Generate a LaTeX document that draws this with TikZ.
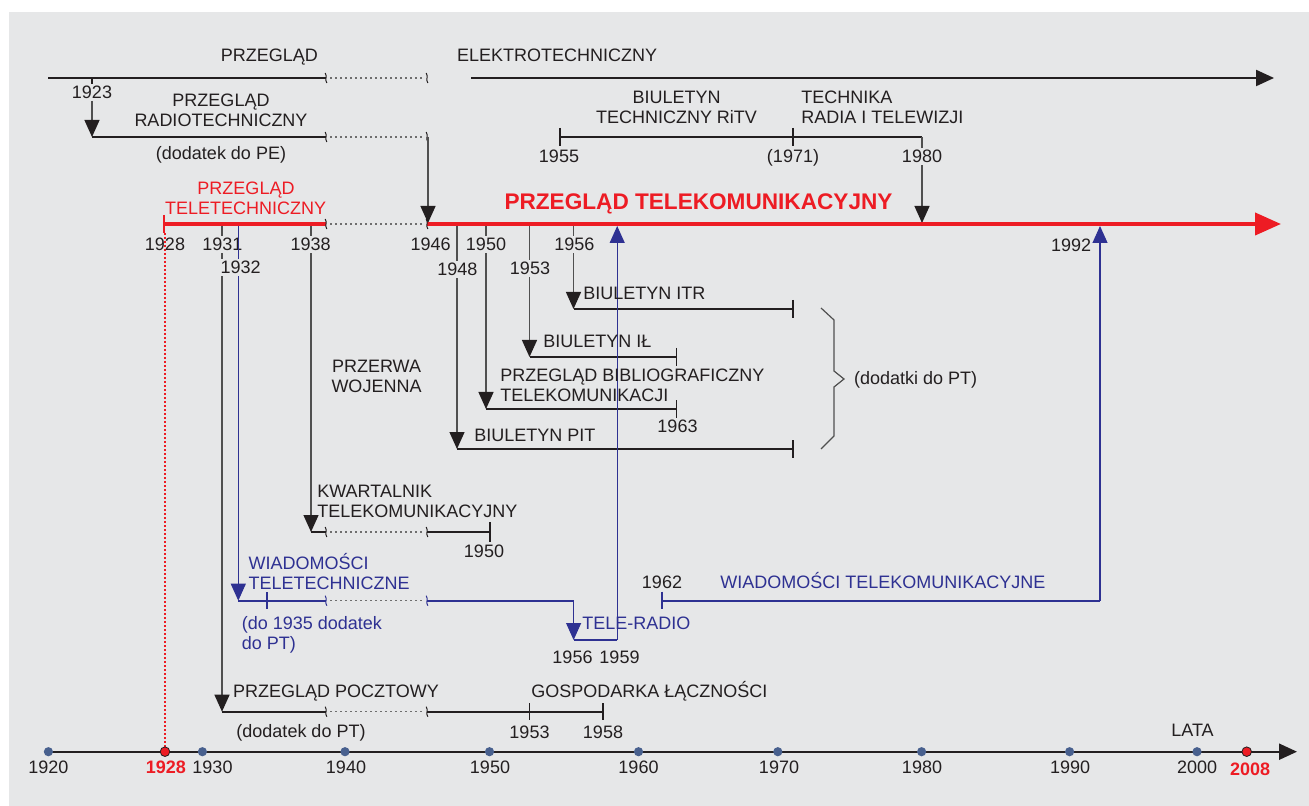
\documentclass[tikz,border=0pt]{standalone}
\usepackage{fontspec}
\setmainfont{Liberation Sans}
\usetikzlibrary{arrows.meta}
\definecolor{bg}{RGB}{230,231,232}
\definecolor{ink}{RGB}{35,31,32}
\definecolor{vline}{RGB}{80,80,80}
\definecolor{pred}{RGB}{237,28,36}
\definecolor{pblue}{RGB}{46,49,146}
\definecolor{dotc}{RGB}{72,96,142}
\definecolor{dotgray}{RGB}{110,110,110}
\newcommand\BrkMark[3][ink]{\draw[draw=#1,line width=0.5pt] ({#2-0.8},{#3-5}) .. controls ({#2+1.6},{#3-1.5}) and ({#2-1.6},{#3+1.5}) .. ({#2+0.8},{#3+5});}
\tikzset{
  every node/.style={inner sep=0pt, font=\fontsize{9}{10}\selectfont, text=ink},
  lab/.style={anchor=base},
  labw/.style={anchor=base west},
  mask/.style={fill=bg, inner sep=1.1pt},
  redtxt/.style={text=pred},
  bluetxt/.style={text=pblue},
  hline/.style={draw=ink, line width=1.1pt},
  vl/.style={draw=vline, line width=0.65pt},
  arr/.style={-{Triangle[length=8.5pt,width=7.5pt,color=ink]}},
  barr/.style={-{Triangle[length=8.5pt,width=7.5pt,color=pblue]}},
  dots/.style={draw=dotgray, line width=0.6pt, dash pattern=on 0.8pt off 1.7pt},
  redl/.style={draw=pred, line width=2pt},
  bluel/.style={draw=pblue, line width=1.1pt},
  bluev/.style={draw=pblue, line width=0.55pt},
  tickl/.style={draw=ink, line width=0.9pt},
  yeardot/.style={fill=dotc},
  reddot/.style={fill=pred, draw=ink, line width=0.4pt},
}
\begin{document}
\begin{tikzpicture}[x=0.5pt,y=-0.5pt]
\useasboundingbox (0,0) rectangle (1309,806);
\fill[white] (0,0) rectangle (1309,806);
\fill[bg] (9,12) rectangle (1309,806);

% ---------- coordinates ----------
\coordinate (peA) at (48,78);   \coordinate (peB) at (326,78);
\coordinate (peC) at (330,78);  \coordinate (peD) at (423,78);
\coordinate (peE) at (471,78);  \coordinate (peF) at (1274,78);
\coordinate (t23a) at (92,78);  \coordinate (t23b) at (92,84);
\coordinate (a23a) at (92,101);
\coordinate (prA) at (92,137);  \coordinate (prB) at (326,137);
\coordinate (prC) at (330,137); \coordinate (prD) at (423,137);
\coordinate (prE) at (428,137); \coordinate (ptIn) at (428,223);
\coordinate (ptA) at (164,224); \coordinate (ptB) at (326,224);
\coordinate (ptC) at (330,224); \coordinate (ptD) at (423,224);
\coordinate (ptE) at (427,224); \coordinate (ptF) at (1281,224);
\coordinate (btA) at (560,137); \coordinate (btB) at (922,137);
\coordinate (btIn) at (922,223);

% ---------- top rows ----------
\draw[hline] (peA) -- (peB);
\draw[dots] (peC) -- (peD);
\draw[hline,-{Triangle[length=9pt,width=8pt]}] (peE) -- (peF);
\BrkMark{326}{78}\BrkMark{427}{78}
\draw[tickl] (t23a) -- (t23b);
\draw[vl,arr] (a23a) -- (prA);
\draw[hline] (prA) -- (prB);
\draw[dots] (prC) -- (prD);
\BrkMark{326}{137}\BrkMark{427}{137}
\draw[vl,arr] (prE) -- (ptIn);

\draw[hline] (btA) -- (btB);
\draw[tickl] (560,128) -- (560,146);
\draw[tickl] (793,128) -- (793,146);
\draw[vl,arr] (btB) -- (btIn);

% ---------- red row ----------
\draw[draw=pred,line width=0.6pt,dash pattern=on 1pt off 1pt] (165,233) -- (165,747);
\draw[draw=pred,line width=1pt] (164,215) -- (164,233);
\draw[redl] (ptA) -- (ptB);
\draw[dots] (ptC) -- (ptD);
\draw[redl,-{Triangle[length=13pt,width=11pt]}] (ptE) -- (ptF);
\BrkMark{326}{224}\BrkMark{427}{224}

% ---------- verticals from red line ----------
\coordinate (v31) at (222,226);   \coordinate (pp0) at (222,711.7);
\coordinate (v38) at (311,226);   \coordinate (kt0) at (311,532);
\coordinate (v48) at (457,226);   \coordinate (pit0) at (457,449);
\coordinate (v50) at (486,226);   \coordinate (pbt0) at (486,409);
\coordinate (v53) at (529.5,226); \coordinate (il0) at (529.5,357);
\coordinate (v56) at (573.5,226); \coordinate (itr0) at (573.5,309);
\draw[vl,arr] (v31) -- (pp0);
\draw[vl,arr] (v38) -- (kt0);
\draw[vl,arr] (v48) -- (pit0);
\draw[vl,arr] (v50) -- (pbt0);
\draw[vl,arr] (v53) -- (il0);
\draw[vl,arr] (v56) -- (itr0);

% ---------- bulletins ----------
\coordinate (itr1) at (793,309);   \coordinate (il1) at (676.5,357);
\coordinate (pbt1) at (676.5,409); \coordinate (pit1) at (793,449);
\draw[hline] (itr0) -- (itr1); \draw[tickl] (793,300) -- (793,318);
\draw[hline] (il0) -- (il1);   \draw[tickl] (676.5,348) -- (676.5,366);
\draw[hline] (pbt0) -- (pbt1); \draw[tickl] (676.5,400) -- (676.5,418);
\draw[hline] (pit0) -- (pit1); \draw[tickl] (793,440) -- (793,458);
% brace
\draw[draw=vline,line width=0.6pt] (821,308) -- (834,320) -- (834,371) -- (844,379) -- (834,387) -- (834,436) -- (821,449);

% ---------- KT row ----------
\coordinate (ktB) at (326,532); \coordinate (ktC) at (330,532);
\coordinate (ktD) at (423,532); \coordinate (ktE) at (427,532);
\coordinate (ktF) at (490,532);
\draw[hline] (kt0) -- (ktB);
\draw[dots] (ktC) -- (ktD);
\draw[hline] (ktE) -- (ktF);
\draw[tickl] (490,522) -- (490,542);
\BrkMark{326}{532}\BrkMark{427}{532}

% ---------- PP row ----------
\coordinate (ppB) at (326,711.7); \coordinate (ppC) at (330,711.7);
\coordinate (ppD) at (423,711.7); \coordinate (ppE) at (427,711.7);
\coordinate (ppF) at (603,711.7);
\draw[hline] (pp0) -- (ppB);
\draw[dots] (ppC) -- (ppD);
\draw[hline] (ppE) -- (ppF);
\draw[tickl] (529.5,703) -- (529.5,720);
\draw[tickl] (603,703) -- (603,720);
\BrkMark{326}{711.7}\BrkMark{427}{711.7}

% ---------- labels below red line ----------
\node[lab] (y28) at (165,250.7) {1928};
\node[lab,mask] (y31) at (222.3,250.7) {1931};
\node[lab,mask] (y38) at (310.7,250.7) {1938};
\node[lab] (y46) at (430.7,250.7) {1946};
\node[lab,mask] (y50) at (486,250.7) {1950};
\node[lab,mask] (y56) at (574.3,250.7) {1956};
\node[lab,mask] (y48) at (457.3,276) {1948};
\node[lab,mask] (y53) at (530,275) {1953};
\node[lab] (y92) at (1071,251.7) {1992};

% ---------- blue rows ----------
\coordinate (b32) at (238.3,226);  \coordinate (wtA) at (238.3,600.7);
\coordinate (wtB) at (326,600.7);  \coordinate (wtC) at (330,600.7);
\coordinate (wtD) at (423,600.7);  \coordinate (wtE) at (427,600.7);
\coordinate (wtF) at (573.6,600.7); \coordinate (trA) at (573.6,640);
\coordinate (trB) at (617.2,640);  \coordinate (trUp) at (617.2,226);
\coordinate (wkA) at (662,600.7);  \coordinate (wkB) at (1100,600.7);
\coordinate (wkUp) at (1100,226);
\draw[bluev,barr] (b32) -- (wtA);
\node[lab,mask] (y32) at (240.7,273.3) {1932};
\draw[bluel] (wtA) -- (wtB);
\draw[dots] (wtC) -- (wtD);
\draw[bluel] (wtE) -- (wtF);
\draw[bluev,barr] (wtF) -- (trA);
\draw[draw=pblue,line width=0.9pt] (267,592) -- (267,609);
\BrkMark[pblue]{326}{600.7}\BrkMark[pblue]{427}{600.7}
\draw[bluel] (trA) -- (trB);
\draw[bluev,barr] (trB) -- (trUp);
\draw[draw=pblue,line width=0.9pt] (662,591.5) -- (662,609);
\draw[bluel] (wkA) -- (wkB);
\draw[bluev,barr] (wkB) -- (wkUp);

% ---------- top labels ----------
\node[lab] (pe1) at (269.3,61.7) {PRZEGLĄD};
\node[labw] (pe2) at (456.6,62) {ELEKTROTECHNICZNY};
\node[lab] (l23) at (92,98.7) {1923};
\node[lab] (pr1) at (221,106.7) {PRZEGLĄD};
\node[lab] (pr2) at (221,126.7) {RADIOTECHNICZNY};
\node[lab] (pr3) at (221,159.5) {(dodatek do PE)};
\node[lab,redtxt] (ptt1) at (246,195) {PRZEGLĄD};
\node[lab,redtxt] (ptt2) at (245.6,215) {TELETECHNICZNY};
\node[lab,text=pred,font=\fontsize{11.3}{12}\selectfont\bfseries] (ptk) at (698.5,209.3) {PRZEGLĄD TELEKOMUNIKACYJNY};
\node[lab] (bt1) at (676.5,104) {BIULETYN};
\node[lab] (bt2) at (676.5,124) {TECHNICZNY RiTV};
\node[labw] (tr1) at (801,104) {TECHNIKA};
\node[labw] (tr2) at (801,124) {RADIA I TELEWIZJI};
\node[lab] (y55) at (559,163) {1955};
\node[lab] (y71) at (793,163) {(1971)};
\node[lab,mask] (y80) at (922,163) {1980};

% ---------- middle labels ----------
\node[labw] (itrT) at (582.9,300) {BIULETYN ITR};
\node[labw] (ilT) at (542.9,347.3) {BIULETYN IŁ};
\node[labw] (pbT1) at (500,382) {PRZEGLĄD BIBLIOGRAFICZNY};
\node[labw] (pbT2) at (500,401.7) {TELEKOMUNIKACJI};
\node[lab] (y63) at (677.5,432.7) {1963};
\node[labw] (pitT) at (474,441.7) {BIULETYN PIT};
\node[labw] (dod) at (853.6,385) {(dodatki do PT)};
\node[lab] (pw1) at (376.5,372.3) {PRZERWA};
\node[lab] (pw2) at (376.5,392.7) {WOJENNA};
\node[labw] (kt1) at (317,497.3) {KWARTALNIK};
\node[labw] (kt2) at (317,517.3) {TELEKOMUNIKACYJNY};
\node[lab] (y50b) at (484,557.7) {1950};

% ---------- blue labels ----------
\node[labw,bluetxt] (wt1) at (248.3,569.3) {WIADOMOŚCI};
\node[labw,bluetxt] (wt2) at (248.3,589) {TELETECHNICZNE};
\node[labw,bluetxt] (wt3) at (241.4,629.5) {(do 1935 dodatek};
\node[labw,bluetxt] (wt4) at (241.4,649.5) {do PT)};
\node[labw,bluetxt] (trT) at (582,629.3) {TELE-RADIO};
\node[lab] (y56b) at (572.5,663.3) {1956};
\node[lab] (y59) at (619.5,663.3) {1959};
\node[lab] (y62) at (662,588.3) {1962};
\node[labw,bluetxt] (wkT) at (720,588.3) {WIADOMOŚCI TELEKOMUNIKACYJNE};

% ---------- PP labels ----------
\node[labw] (pp1) at (232.7,697.3) {PRZEGLĄD POCZTOWY};
\node[labw] (gl1) at (531,697.3) {GOSPODARKA ŁĄCZNOŚCI};
\node[lab] (pp2) at (301,737.3) {(dodatek do PT)};
\node[lab] (y53b) at (529.5,738) {1953};
\node[lab] (y58) at (603,738) {1958};

% ---------- axis ----------
\coordinate (axA) at (48,751.7); \coordinate (axB) at (1297,751.7);
\draw[hline,-{Triangle[length=9pt,width=8pt]}] (axA) -- (axB);
\foreach \xx in {48.4,202.4,345,489.5,638.5,777.8,921.6,1069.6,1197}
  \fill[yeardot] (\xx,751.7) circle[radius=2.3pt];
\filldraw[reddot] (165,751.7) circle[radius=2.4pt];
\filldraw[reddot] (1246.7,751.7) circle[radius=2.4pt];
\node[lab] (x20) at (48.4,773.3) {1920};
\node[lab,text=pred,font=\fontsize{9}{10}\selectfont\bfseries] (x28) at (165.8,773.3) {1928};
\node[lab] (x30) at (212.5,773.3) {1930};
\node[lab] (x40) at (346,773.3) {1940};
\node[lab] (x50) at (490,773.3) {1950};
\node[lab] (x60) at (638.5,773.3) {1960};
\node[lab] (x70) at (779,773.3) {1970};
\node[lab] (x80) at (922,773.3) {1980};
\node[lab] (x90) at (1070,773.3) {1990};
\node[lab] (x00) at (1197,773.3) {2000};
\node[lab,text=pred,font=\fontsize{9}{10}\selectfont\bfseries] (x08) at (1250,775) {2008};
\node[lab] (lata) at (1192.5,736) {LATA};
\end{tikzpicture}
\end{document}
